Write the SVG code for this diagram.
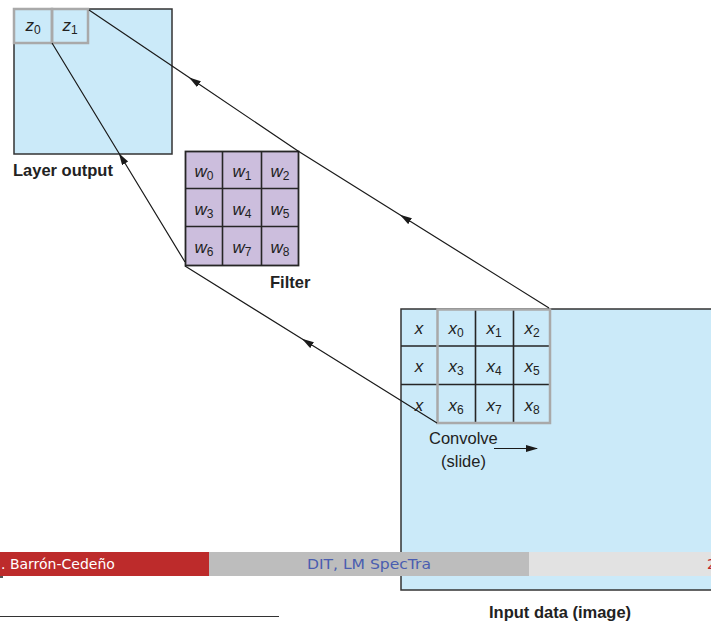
<svg xmlns="http://www.w3.org/2000/svg" width="711" height="621" viewBox="0 0 711 621">
  <style>
    .box { fill: #cbeaf9; stroke: #333; stroke-width: 1.5; }
    .hl { fill: none; stroke: #a9a9a9; stroke-width: 2.5; }
    .grid { stroke: #262626; stroke-width: 1.6; fill: none; }
    .filt { fill: #ccbedd; stroke: #262626; stroke-width: 1.8; }
    .lbl { font-family: "Liberation Sans", Arial, sans-serif; font-size: 16.5px; font-weight: bold; fill: #222; }
    .var { font-family: "Liberation Sans", Arial, sans-serif; font-size: 17px; font-style: italic; fill: #222; text-anchor: middle; }
    .sub { font-size: 12px; font-style: normal; }
    .note { font-family: "Liberation Sans", Arial, sans-serif; font-size: 16.5px; fill: #222; }
    .conn { fill: none; stroke: #1a1a1a; stroke-width: 1.2; }
    .foot { font-family: "DejaVu Sans", sans-serif; font-size: 14px; }
  </style>
  <defs>
    <marker id="ah" markerUnits="userSpaceOnUse" markerWidth="12" markerHeight="8" refX="6" refY="3.5" orient="auto">
      <path d="M0,0 L12,3.5 L0,7 z" fill="#1a1a1a"/>
    </marker>
    <marker id="ahEnd" markerUnits="userSpaceOnUse" markerWidth="12" markerHeight="8" refX="11" refY="3.5" orient="auto">
      <path d="M0,0 L12,3.5 L0,7 z" fill="#1a1a1a"/>
    </marker>
  </defs>

  <!-- output feature map -->
  <g id="layer-output">
    <rect class="box" x="14" y="9" width="158" height="145"/>
    <rect class="hl" x="14" y="9" width="38" height="34"/>
    <rect class="hl" x="52" y="9" width="36" height="34"/>
    <text class="var" x="33" y="31">z<tspan class="sub" dy="3">0</tspan></text>
    <text class="var" x="70" y="31">z<tspan class="sub" dy="3">1</tspan></text>
    <text class="lbl" x="13" y="176">Layer output</text>
  </g>

  <!-- 3x3 kernel -->
  <g id="filter">
    <rect class="filt" x="185.5" y="151.5" width="113" height="114"/>
    <path class="grid" d="M222.5,151.5 V265.5 M261.5,151.5 V265.5 M185.5,188.5 H298.5 M185.5,226.5 H298.5"/>
    <g>
      <text class="var" x="204" y="177">w<tspan class="sub" dy="3">0</tspan></text>
      <text class="var" x="242" y="177">w<tspan class="sub" dy="3">1</tspan></text>
      <text class="var" x="280" y="177">w<tspan class="sub" dy="3">2</tspan></text>
      <text class="var" x="204" y="215">w<tspan class="sub" dy="3">3</tspan></text>
      <text class="var" x="242" y="215">w<tspan class="sub" dy="3">4</tspan></text>
      <text class="var" x="280" y="215">w<tspan class="sub" dy="3">5</tspan></text>
      <text class="var" x="204" y="253">w<tspan class="sub" dy="3">6</tspan></text>
      <text class="var" x="242" y="253">w<tspan class="sub" dy="3">7</tspan></text>
      <text class="var" x="280" y="253">w<tspan class="sub" dy="3">8</tspan></text>
    </g>
    <text class="lbl" x="270" y="288">Filter</text>
  </g>

  <!-- input image with the current receptive field -->
  <g id="input-data">
    <rect class="box" x="401" y="309" width="320" height="281"/>
    <path class="grid" d="M401,346 H437 M401,384.5 H437 M475.5,309 V423 M513.5,309 V423 M437,346 H550 M437,384.5 H550"/>
    <rect class="hl" x="437.5" y="309.5" width="112.5" height="113.5"/>
    <text class="var" x="419" y="334">x</text>
    <text class="var" x="419" y="372">x</text>
    <text class="var" x="419" y="411">x</text>
    <text class="var" x="456" y="334">x<tspan class="sub" dy="3">0</tspan></text>
    <text class="var" x="494" y="334">x<tspan class="sub" dy="3">1</tspan></text>
    <text class="var" x="532" y="334">x<tspan class="sub" dy="3">2</tspan></text>
    <text class="var" x="456" y="372">x<tspan class="sub" dy="3">3</tspan></text>
    <text class="var" x="494" y="372">x<tspan class="sub" dy="3">4</tspan></text>
    <text class="var" x="532" y="372">x<tspan class="sub" dy="3">5</tspan></text>
    <text class="var" x="456" y="411">x<tspan class="sub" dy="3">6</tspan></text>
    <text class="var" x="494" y="411">x<tspan class="sub" dy="3">7</tspan></text>
    <text class="var" x="532" y="411">x<tspan class="sub" dy="3">8</tspan></text>
    <text class="note" x="429" y="444">Convolve</text>
    <text class="note" x="441" y="467">(slide)</text>
    <text class="lbl" x="489" y="618">Input data (image)</text>
  </g>

  <!-- projection lines from input window through kernel to output cells -->
  <g id="connectors">
    <path class="conn" d="M549,308 L405,218 L298,151" marker-mid="url(#ah)"/>
    <path class="conn" d="M298,151 L194,80.8 L89,10" marker-mid="url(#ah)"/>
    <path class="conn" d="M437,423 L307,342 L185,266" marker-mid="url(#ah)"/>
    <path class="conn" d="M185,262 L122,158.3 L52,43" marker-mid="url(#ah)"/>
    <path class="conn" d="M494,448.5 L537,448.5" marker-end="url(#ahEnd)"/>
  </g>

  <!-- slide footer -->
  <g id="footer">
    <rect x="0" y="552" width="209" height="24" fill="#bd2b2b"/>
    <rect x="209" y="552" width="320" height="24" fill="#bdbdbd"/>
    <rect x="529" y="552" width="182" height="24" fill="#e2e2e2"/>
    <text class="foot" x="1" y="569" fill="#ffffff">. Barrón-Cedeño</text>
    <text class="foot" x="307" y="569" fill="#4a5db0" textLength="124" lengthAdjust="spacingAndGlyphs">DIT, LM SpecTra</text>
    <text class="foot" x="707" y="569" fill="#c0282a">2</text>
    <rect x="0" y="576" width="3" height="2" fill="#555"/>
    <line x1="0" y1="616.5" x2="279" y2="616.5" stroke="#333" stroke-width="1.2"/>
  </g>
</svg>
